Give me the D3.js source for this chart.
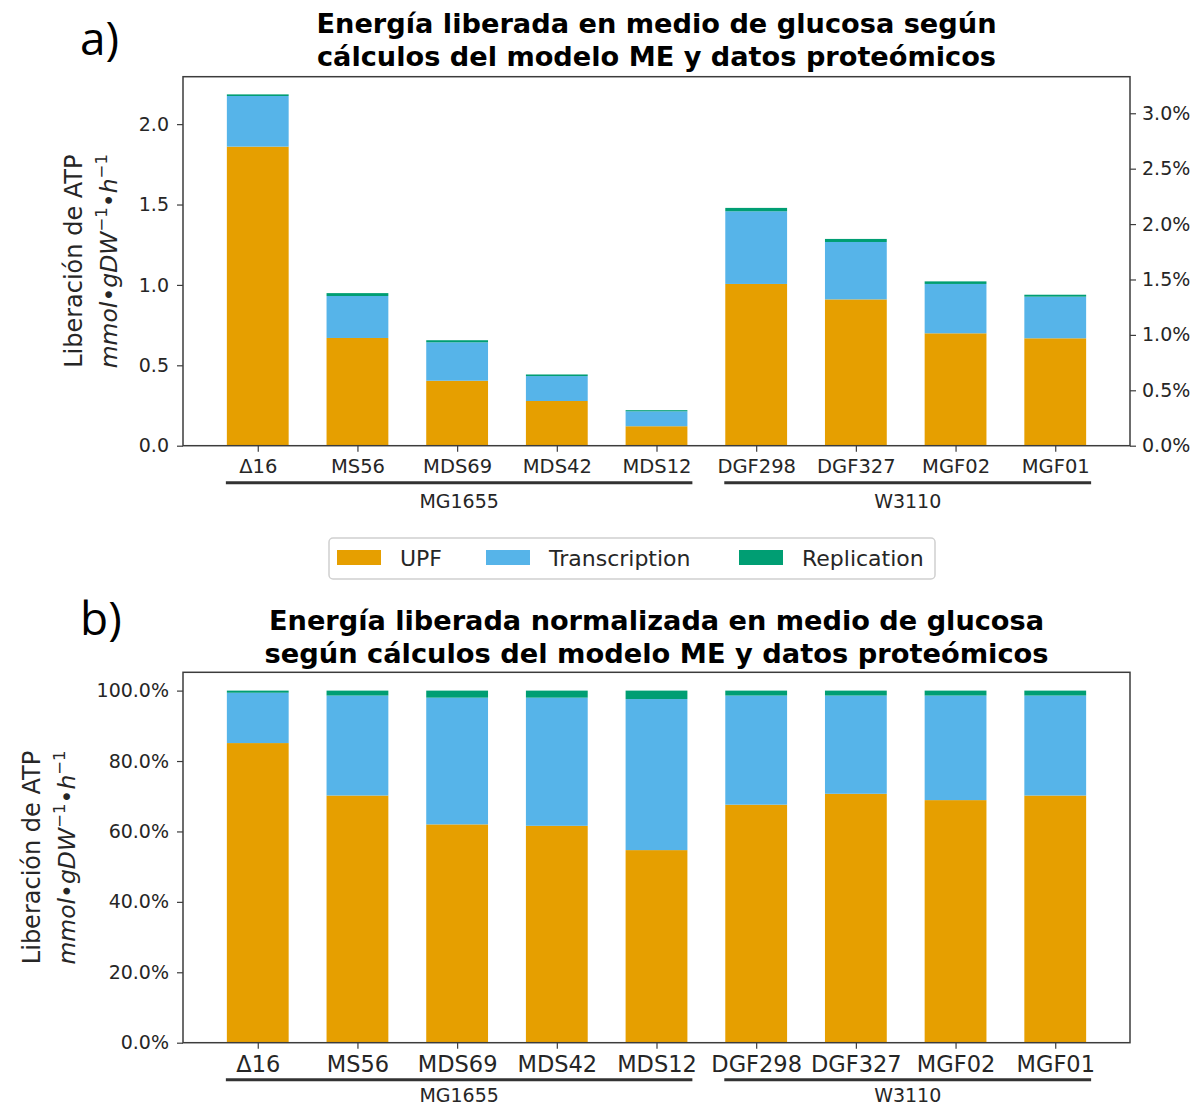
<!DOCTYPE html>
<html>
<head>
<meta charset="utf-8">
<script src="https://cdn.jsdelivr.net/npm/d3@7"></script>
<style>
  html, body { margin: 0; padding: 0; background: #fff; }
  svg { display: block; font-family: "DejaVu Sans", sans-serif; }
</style>
</head>
<body>
<svg id="fig" width="1197" height="1107"></svg>
<script>
// Strains and their parent lineages
const strains = ["Δ16", "MS56", "MDS69", "MDS42", "MDS12", "DGF298", "DGF327", "MGF02", "MGF01"];
const lineages = [
  { name: "MG1655", first: 0, last: 4 },
  { name: "W3110", first: 5, last: 8 }
];
const seriesNames = ["UPF", "Transcription", "Replication"];
const seriesColors = ["#E69F00", "#56B4E9", "#009E73"];

// ATP released (mmol·gDW⁻¹·h⁻¹) per process
const upf = [1.860, 0.670, 0.404, 0.278, 0.121, 1.006, 0.910, 0.699, 0.668];
const transcription = [0.315, 0.261, 0.239, 0.155, 0.093, 0.452, 0.357, 0.307, 0.259];
const replication = [0.010, 0.018, 0.013, 0.010, 0.007, 0.021, 0.019, 0.016, 0.012];

// Share of the released ATP per process (%)
const upfShare = [85.1, 70.2, 62.0, 61.6, 54.7, 67.6, 70.7, 68.9, 70.2];
const transcriptionShare = [14.3, 28.4, 36.0, 36.4, 42.9, 31.0, 27.9, 29.7, 28.4];
const replicationShare = [0.6, 1.4, 2.0, 2.0, 2.4, 1.4, 1.4, 1.4, 1.4];

// Axis ticks
const leftTicksA = [0, 0.5, 1.0, 1.5, 2.0];
const rightTicksA = [0, 0.5, 1.0, 1.5, 2.0, 2.5, 3.0];
const leftTicksB = [0, 0.2, 0.4, 0.6, 0.8, 1.0];

const svg = d3.select("#fig");
const ink = "#262626";
const spine = "#3c3c3c";

const left = 183, right = 1130;
const x = d3.scaleLinear().domain([-0.75, strains.length - 0.25]).range([left, right]);
const barW = x(0.62) - x(0);

function stackRows(a, b, c) {
  return strains.map((s, i) => ({ strain: s, i, UPF: a[i], Transcription: b[i], Replication: c[i] }));
}

function drawPanel(opts) {
  const g = svg.append("g");
  const y = d3.scaleLinear().domain(opts.yDomain).range([opts.bottom, opts.top]);
  const stacked = d3.stack().keys(seriesNames)(opts.rows);

  stacked.forEach((layer, k) => {
    g.append("g").selectAll("rect").data(layer).join("rect")
      .attr("x", d => x(d.data.i) - barW / 2)
      .attr("width", barW)
      .attr("y", d => y(d[1]))
      .attr("height", d => Math.max(0, y(d[0]) - y(d[1])))
      .attr("fill", seriesColors[k]);
  });

  // Left axis
  const ay = g.append("g").attr("transform", `translate(${left},0)`)
    .call(d3.axisLeft(y).tickValues(opts.leftTicks).tickFormat(opts.leftFormat).tickSize(6).tickPadding(8));
  ay.select(".domain").remove();
  ay.selectAll("line").attr("stroke", spine).attr("stroke-width", 1.2);
  ay.selectAll("text").attr("font-size", 19).attr("fill", ink).attr("font-family", "DejaVu Sans");

  // Right axis (optional)
  if (opts.rightDomain) {
    const yr = d3.scaleLinear().domain(opts.rightDomain).range([opts.bottom, opts.top]);
    const ar = g.append("g").attr("transform", `translate(${right},0)`)
      .call(d3.axisRight(yr).tickValues(opts.rightTicks).tickFormat(d => d3.format(".1f")(d) + "%").tickSize(6).tickPadding(6));
    ar.select(".domain").remove();
    ar.selectAll("line").attr("stroke", spine).attr("stroke-width", 1.2);
    ar.selectAll("text").attr("font-size", 19).attr("fill", ink).attr("font-family", "DejaVu Sans");
  }

  // Bottom axis
  const ax = g.append("g").attr("transform", `translate(0,${opts.bottom})`)
    .call(d3.axisBottom(x).tickValues(d3.range(strains.length)).tickFormat(i => strains[i]).tickSize(6).tickPadding(opts.xPad));
  ax.select(".domain").remove();
  ax.selectAll("line").attr("stroke", spine).attr("stroke-width", 1.2);
  ax.selectAll("text").attr("font-size", opts.xFont).attr("fill", ink).attr("font-family", "DejaVu Sans");

  // Frame
  g.append("rect").attr("x", left).attr("y", opts.top)
    .attr("width", right - left).attr("height", opts.bottom - opts.top)
    .attr("fill", "none").attr("stroke", spine).attr("stroke-width", 1.5);

  // Lineage brackets
  lineages.forEach(L => {
    g.append("line")
      .attr("x1", x(L.first - 0.32)).attr("x2", x(L.last + 0.36))
      .attr("y1", opts.bottom + 37).attr("y2", opts.bottom + 37)
      .attr("stroke", "#333").attr("stroke-width", 3);
    g.append("text")
      .attr("x", (x(L.first - 0.32) + x(L.last + 0.36)) / 2)
      .attr("y", opts.bottom + opts.groupDy)
      .attr("text-anchor", "middle").attr("font-size", 19).attr("fill", ink)
      .text(L.name);
  });

  // Title
  opts.title.forEach((line, k) => {
    g.append("text")
      .attr("x", (left + right) / 2).attr("y", opts.titleY + k * 33)
      .attr("text-anchor", "middle").attr("font-size", 26).attr("font-weight", "bold")
      .attr("fill", "#000")
      .attr("textLength", opts.titleLen[k]).attr("lengthAdjust", "spacingAndGlyphs")
      .text(line);
  });

  // Y label (two lines)
  const cy = (opts.top + opts.bottom) / 2;
  g.append("text")
    .attr("transform", `translate(${opts.labelX},${cy}) rotate(-90)`)
    .attr("text-anchor", "middle").attr("font-size", 24).attr("fill", ink)
    .text("Liberación de ATP");
  const l2 = g.append("text")
    .attr("transform", `translate(${opts.labelX + 35},${cy}) rotate(-90)`)
    .attr("text-anchor", "middle").attr("font-size", 23.5).attr("fill", ink);
  l2.append("tspan").attr("font-style", "italic").text("mmol•gDW");
  l2.append("tspan").attr("font-size", 16.5).attr("dy", -10).text("−1");
  l2.append("tspan").attr("font-style", "italic").attr("dy", 10).text("•h");
  l2.append("tspan").attr("font-size", 16.5).attr("dy", -10).text("−1");

  // Panel letter
  g.append("text").attr("x", 80).attr("y", opts.letterY)
    .attr("font-family", "Open Sans, Noto Sans, sans-serif").attr("font-size", 46).attr("fill", "#000")
    .text(opts.letter);
}

drawPanel({
  rows: stackRows(upf, transcription, replication),
  top: 76.7, bottom: 445.7,
  yDomain: [0, 2.295],
  leftTicks: leftTicksA,
  leftFormat: d3.format(".1f"),
  rightDomain: [0, 3.33],
  rightTicks: rightTicksA,
  xFont: 19.5, xPad: 7,
  groupDy: 62,
  title: ["Energía liberada en medio de glucosa según", "cálculos del modelo ME y datos proteómicos"],
  titleLen: [680, 679],
  titleY: 33,
  labelX: 82,
  letter: "a)",
  letterY: 55
});

drawPanel({
  rows: stackRows(upfShare.map(v => v / 100), transcriptionShare.map(v => v / 100), replicationShare.map(v => v / 100)),
  top: 672.3, bottom: 1042.7,
  yDomain: [0, 1.052],
  leftTicks: leftTicksB,
  leftFormat: d3.format(".1%"),
  xFont: 22.5, xPad: 7,
  groupDy: 59,
  title: ["Energía liberada normalizada en medio de glucosa", "según cálculos del modelo ME y datos proteómicos"],
  titleLen: [775, 784],
  titleY: 630,
  labelX: 40,
  letter: "b)",
  letterY: 635
});

// Legend
const leg = svg.append("g");
leg.append("rect").attr("x", 329).attr("y", 538).attr("width", 606).attr("height", 41)
  .attr("rx", 4).attr("fill", "#fff").attr("stroke", "#d0d0d0").attr("stroke-width", 1.5);
const legX = [337, 486, 739];
seriesNames.forEach((n, k) => {
  leg.append("rect").attr("x", legX[k]).attr("y", 550).attr("width", 44).attr("height", 15)
    .attr("fill", seriesColors[k]);
  leg.append("text").attr("x", legX[k] + 63).attr("y", 566)
    .attr("font-size", 22).attr("fill", ink).text(n);
});
</script>
</body>
</html>
